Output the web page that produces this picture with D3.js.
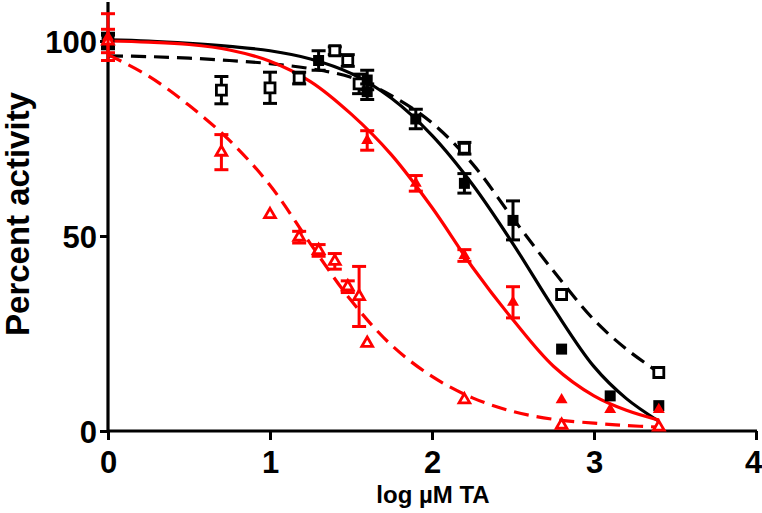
<!DOCTYPE html>
<html><head><meta charset="utf-8">
<script src="https://cdn.jsdelivr.net/npm/d3@7"></script>
<style>
html,body{margin:0;padding:0;background:#fff;}
svg{display:block;}
text{font-family:"Liberation Sans",Arial,sans-serif;font-weight:bold;fill:#000;}
</style></head>
<body>
<svg id="chart" width="762" height="513"></svg>
<script>
// ---- data ----
const xTicks = [0, 1, 2, 3, 4];
const yTicks = [0, 50, 100];
const xLabel = "log µM TA";
const yLabel = "Percent activity";

// fitted curves
const curveX         = [0, 0.25, 0.5, 0.75, 1.0, 1.25, 1.5, 1.75, 2.0, 2.25, 2.5, 2.75, 3.0, 3.2, 3.4];
const blackSolidY    = [100.3, 100, 99.4, 98.6, 97.5, 95.4, 91.7, 85.3, 75.8, 63.2, 48, 31.5, 16.5, 8.3, 2.5];
const blackDashedY   = [96.2, 96, 95.6, 95, 94.2, 92.9, 90.7, 86, 79, 68.5, 54.5, 41, 28.5, 21, 15];
const redSolidY      = [100, 99.7, 99.1, 97.7, 94.8, 89.6, 81.3, 70.8, 57.3, 42, 28.5, 16.6, 9.0, 5.3, 2.8];
const redDashedY     = [96.5, 91, 83.5, 74.5, 63, 48, 33.5, 22, 14, 8.5, 5, 3, 2, 1.4, 1.0];

// data points (mean, error)
const blackFilledX   = [0, 1.3, 1.6, 1.6, 1.9, 2.2, 2.5, 2.8, 3.1, 3.4];
const blackFilledY   = [100, 95, 90, 87, 80, 63.5, 54, 21, 9, 6.5];
const blackFilledE   = [2, 2.5, 2.5, 2, 2.5, 2.5, 5, 0, 0, 0];

const blackOpenX     = [0, 0.7, 1.0, 1.18, 1.4, 1.48, 1.55, 2.2, 2.8, 3.4];
const blackOpenY     = [100, 87.4, 88, 90.5, 97.5, 95, 89, 72.5, 35, 15];
const blackOpenE     = [1.5, 3.5, 4, 1.5, 1, 1.5, 2.5, 1.5, 0, 0];

const redFilledX     = [0, 1.6, 1.9, 2.2, 2.5, 2.8, 3.1, 3.4];
const redFilledY     = [101, 74.5, 63.5, 45, 33, 8, 5.5, 5.5];
const redFilledE     = [6, 2.5, 2, 1.5, 4, 0, 0, 0];

const redOpenX       = [0, 0.7, 1.0, 1.18, 1.3, 1.4, 1.48, 1.55, 1.6, 2.2, 2.8, 3.4];
const redOpenY       = [100, 71.5, 55.5, 49.7, 46.3, 43.5, 37, 34.5, 22.5, 8, 1.5, 1];
const redOpenE       = [3, 4.5, 0, 1.5, 1.5, 2, 1.5, 7.7, 0, 0, 0, 0];

// ---- drawing ----
const svg = d3.select("#chart");
const x = d3.scaleLinear().domain([0, 4]).range([108, 756]);
const y = d3.scaleLinear().domain([0, 100]).range([431, 41]);
const RED = "#ff0000", BLACK = "#000000";

// axes
const xAxis = d3.axisBottom(x).tickValues(xTicks).tickSize(9).tickPadding(11).tickFormat(d3.format("d"));
const yAxis = d3.axisLeft(y).tickValues(yTicks).tickSize(8).tickPadding(3).tickFormat(d3.format("d"));

const gx = svg.append("g").attr("transform", "translate(0,431)").call(xAxis);
gx.select(".domain").attr("d", `M${x(0)},0H${x(4) + 1}`);
const gy = svg.append("g").attr("transform", "translate(108,0)").call(yAxis);
gy.select(".domain").attr("d", `M0,${y(0) + 1}V${y(100) - 39}`);
[gx, gy].forEach(g => {
  g.selectAll(".domain").attr("stroke", BLACK).attr("stroke-width", 3.2).attr("fill", "none");
  g.selectAll(".tick line").attr("stroke", BLACK).attr("stroke-width", 3);
  g.selectAll(".tick text").style("font-size", "31px").attr("fill", BLACK);
});
gx.selectAll(".tick text").attr("dy", "0.71em").attr("dx", d => d === 4 ? -3 : 0);
gy.selectAll(".tick text").attr("dy", "0.36em");
svg.selectAll("g").attr("font-family", null).attr("font-size", null);

// labels
svg.append("text").attr("x", 433).attr("y", 503).attr("text-anchor", "middle")
  .style("font-size", "24px").text(xLabel);
svg.append("text").attr("transform", "translate(29,214) rotate(-90)").attr("text-anchor", "middle")
  .style("font-size", "33px").text(yLabel);

// curves
const line = d3.line().x(d => x(d[0])).y(d => y(d[1])).curve(d3.curveCatmullRom.alpha(0.5));
function drawCurve(ys, color, dashed) {
  svg.append("path").datum(curveX.map((v, i) => [v, ys[i]]))
    .attr("d", line).attr("fill", "none").attr("stroke", color)
    .attr("stroke-width", 3.2).attr("stroke-dasharray", dashed ? "15,8" : null);
}
drawCurve(blackSolidY, BLACK, false);
drawCurve(blackDashedY, BLACK, true);
drawCurve(redSolidY, RED, false);
drawCurve(redDashedY, RED, true);

// points with error bars
function drawPoints(xs, ys, es, color, symType, size, filled) {
  const data = xs.map((v, i) => ({x: v, y: ys[i], e: es[i]}));
  const g = svg.append("g");
  const eb = g.selectAll("g.eb").data(data.filter(d => d.e > 0)).join("g")
    .attr("stroke", color).attr("stroke-width", 3);
  eb.append("line").attr("x1", d => x(d.x)).attr("x2", d => x(d.x))
    .attr("y1", d => y(d.y + d.e)).attr("y2", d => y(d.y - d.e));
  eb.append("line").attr("x1", d => x(d.x) - 7).attr("x2", d => x(d.x) + 7)
    .attr("y1", d => y(d.y + d.e)).attr("y2", d => y(d.y + d.e));
  eb.append("line").attr("x1", d => x(d.x) - 7).attr("x2", d => x(d.x) + 7)
    .attr("y1", d => y(d.y - d.e)).attr("y2", d => y(d.y - d.e));
  g.selectAll("path.m").data(data).join("path").attr("class", "m")
    .attr("transform", d => `translate(${x(d.x)},${y(d.y)})`)
    .attr("d", d3.symbol().type(symType).size(size))
    .attr("fill", filled ? color : "#fff")
    .attr("stroke", color).attr("stroke-width", filled ? 0 : 2.8);
}
drawPoints(blackOpenX, blackOpenY, blackOpenE, BLACK, d3.symbolSquare, 100, false);
drawPoints(blackFilledX, blackFilledY, blackFilledE, BLACK, d3.symbolSquare, 121, true);
drawPoints(redOpenX, redOpenY, redOpenE, RED, d3.symbolTriangle, 50, false);
drawPoints(redFilledX, redFilledY, redFilledE, RED, d3.symbolTriangle, 62, true);
</script>
</body></html>
